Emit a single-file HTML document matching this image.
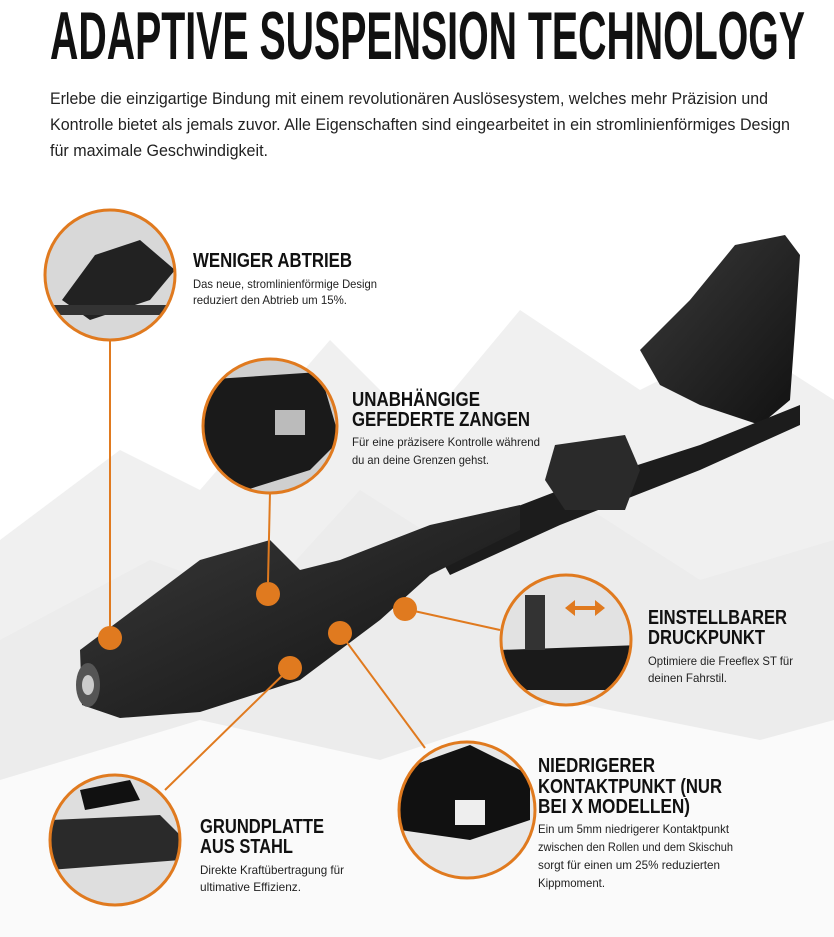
<!DOCTYPE html>
<html><head><meta charset="utf-8"><style>
html,body{margin:0;padding:0;background:#fff;}
svg{display:block;}
.h{font-family:"Liberation Sans Narrow","Liberation Sans",sans-serif;font-weight:bold;fill:#111;}
.d{font-family:"Liberation Sans Narrow","Liberation Sans",sans-serif;fill:#222;}
</style></head><body>
<svg width="834" height="937" viewBox="0 0 834 937" xmlns="http://www.w3.org/2000/svg">
<defs>
<linearGradient id="blk" x1="0" y1="0" x2="1" y2="1">
<stop offset="0" stop-color="#3a3a3a"/><stop offset="1" stop-color="#111"/>
</linearGradient>
<clipPath id="c1"><circle cx="110" cy="275" r="64"/></clipPath>
<clipPath id="c2"><circle cx="270" cy="426" r="66"/></clipPath>
<clipPath id="c3"><circle cx="566" cy="640" r="64"/></clipPath>
<clipPath id="c4"><circle cx="467" cy="810" r="67"/></clipPath>
<clipPath id="c5"><circle cx="115" cy="840" r="64"/></clipPath>
</defs>
<rect width="834" height="937" fill="#fff"/>
<!-- mountains -->
<polygon points="0,540 120,450 200,490 330,340 420,430 520,310 640,390 740,340 834,400 834,900 0,900" fill="#f0f0f0"/>
<polygon points="0,640 150,560 260,600 360,490 470,560 560,490 700,580 834,540 834,900 0,900" fill="#e9e9e9" opacity="0.6"/>
<polygon points="0,780 200,720 380,760 560,700 760,740 834,720 834,937 0,937" fill="#fafafa"/>

<!-- title -->
<text class="h" x="50" y="59" font-size="68" textLength="755" lengthAdjust="spacingAndGlyphs">ADAPTIVE SUSPENSION TECHNOLOGY</text>
<text class="d" x="50" y="104" font-size="17" textLength="718" lengthAdjust="spacingAndGlyphs">Erlebe die einzigartige Bindung mit einem revolutionären Auslösesystem, welches mehr Präzision und</text>
<text class="d" x="50" y="130" font-size="17" textLength="740" lengthAdjust="spacingAndGlyphs">Kontrolle bietet als jemals zuvor. Alle Eigenschaften sind eingearbeitet in ein stromlinienförmiges Design</text>
<text class="d" x="50" y="156" font-size="17" textLength="218" lengthAdjust="spacingAndGlyphs">für maximale Geschwindigkeit.</text>

<!-- binding -->
<polygon points="690,300 735,245 785,235 800,255 795,330 790,400 760,425 700,405 660,385 640,350" fill="url(#blk)"/>
<polygon points="430,540 560,490 700,445 800,405 800,425 700,470 560,525 450,575" fill="#1c1c1c"/>
<polygon points="555,445 625,435 640,470 625,510 565,510 545,480" fill="#2a2a2a"/>
<polygon points="80,650 200,560 270,540 300,570 340,560 430,525 520,505 520,530 430,575 380,620 300,680 200,712 120,718 82,705" fill="url(#blk)"/>
<ellipse cx="88" cy="685" rx="12" ry="22" fill="#555"/>
<ellipse cx="88" cy="685" rx="6" ry="10" fill="#ccc"/>

<!-- connectors -->
<g stroke="#e07a1f" stroke-width="2" fill="none">
<line x1="110" y1="340" x2="110" y2="628"/>
<line x1="270" y1="492" x2="268" y2="582"/>
<line x1="405" y1="609" x2="500" y2="630"/>
<line x1="340" y1="633" x2="425" y2="748"/>
<line x1="290" y1="668" x2="165" y2="790"/>
</g>
<g fill="#e07a1f">
<circle cx="110" cy="638" r="12"/>
<circle cx="268" cy="594" r="12"/>
<circle cx="405" cy="609" r="12"/>
<circle cx="340" cy="633" r="12"/>
<circle cx="290" cy="668" r="12"/>
</g>

<!-- detail circles -->
<circle cx="110" cy="275" r="65" fill="#d8d8d8"/>
<circle cx="270" cy="426" r="67" fill="#cfcfcf"/>
<circle cx="566" cy="640" r="65" fill="#e2e2e2"/>
<circle cx="467" cy="810" r="68" fill="#e8e8e8"/>
<circle cx="115" cy="840" r="65" fill="#dedede"/>
<g clip-path="url(#c1)"><polygon points="62,300 95,255 140,240 175,270 150,300 90,320" fill="#222"/><rect x="40" y="305" width="140" height="10" fill="#333"/></g>
<g clip-path="url(#c2)"><polygon points="200,380 320,372 340,440 310,470 230,495 200,440" fill="#1a1a1a"/><rect x="275" y="410" width="30" height="25" fill="#bbb"/></g>
<g clip-path="url(#c3)"><polygon points="500,650 640,645 640,690 500,690" fill="#1a1a1a"/><rect x="525" y="595" width="20" height="55" fill="#333"/></g>
<polygon points="565,608 575,600 575,616" fill="#e07a1f"/>
<rect x="572" y="606" width="26" height="4" fill="#e07a1f"/>
<polygon points="605,608 595,600 595,616" fill="#e07a1f"/>
<g clip-path="url(#c4)"><polygon points="400,770 470,745 530,775 530,820 470,840 400,830" fill="#111"/><rect x="455" y="800" width="30" height="25" fill="#eee"/></g>
<g clip-path="url(#c5)"><polygon points="50,820 160,815 180,835 180,860 50,870" fill="#2a2a2a"/><polygon points="80,790 130,780 140,800 85,810" fill="#111"/></g>
<g stroke="#e07a1f" stroke-width="3" fill="none">
<circle cx="110" cy="275" r="65"/>
<circle cx="270" cy="426" r="67"/>
<circle cx="566" cy="640" r="65"/>
<circle cx="467" cy="810" r="68"/>
<circle cx="115" cy="840" r="65"/>
</g>

<!-- labels -->
<text class="h" x="193" y="267" font-size="20" textLength="159" lengthAdjust="spacingAndGlyphs">WENIGER ABTRIEB</text>
<text class="d" x="193" y="288" font-size="12" textLength="184" lengthAdjust="spacingAndGlyphs">Das neue, stromlinienförmige Design</text>
<text class="d" x="193" y="304" font-size="12" textLength="154" lengthAdjust="spacingAndGlyphs">reduziert den Abtrieb um 15%.</text>

<text class="h" x="352" y="406" font-size="20" textLength="128" lengthAdjust="spacingAndGlyphs">UNABHÄNGIGE</text>
<text class="h" x="352" y="426" font-size="20" textLength="178" lengthAdjust="spacingAndGlyphs">GEFEDERTE ZANGEN</text>
<text class="d" x="352" y="446" font-size="12" textLength="188" lengthAdjust="spacingAndGlyphs">Für eine präzisere Kontrolle während</text>
<text class="d" x="352" y="464" font-size="12" textLength="137" lengthAdjust="spacingAndGlyphs">du an deine Grenzen gehst.</text>

<text class="h" x="648" y="624" font-size="20" textLength="139" lengthAdjust="spacingAndGlyphs">EINSTELLBARER</text>
<text class="h" x="648" y="644" font-size="20" textLength="117" lengthAdjust="spacingAndGlyphs">DRUCKPUNKT</text>
<text class="d" x="648" y="665" font-size="12" textLength="145" lengthAdjust="spacingAndGlyphs">Optimiere die Freeflex ST für</text>
<text class="d" x="648" y="682" font-size="12" textLength="79" lengthAdjust="spacingAndGlyphs">deinen Fahrstil.</text>

<text class="h" x="538" y="772" font-size="20" textLength="117" lengthAdjust="spacingAndGlyphs">NIEDRIGERER</text>
<text class="h" x="538" y="793" font-size="20" textLength="184" lengthAdjust="spacingAndGlyphs">KONTAKTPUNKT (NUR</text>
<text class="h" x="538" y="813" font-size="20" textLength="152" lengthAdjust="spacingAndGlyphs">BEI X MODELLEN)</text>
<text class="d" x="538" y="833" font-size="12" textLength="191" lengthAdjust="spacingAndGlyphs">Ein um 5mm niedrigerer Kontaktpunkt</text>
<text class="d" x="538" y="851" font-size="12" textLength="195" lengthAdjust="spacingAndGlyphs">zwischen den Rollen und dem Skischuh</text>
<text class="d" x="538" y="869" font-size="12" textLength="182" lengthAdjust="spacingAndGlyphs">sorgt für einen um 25% reduzierten</text>
<text class="d" x="538" y="887" font-size="12" textLength="67" lengthAdjust="spacingAndGlyphs">Kippmoment.</text>

<text class="h" x="200" y="833" font-size="20" textLength="124" lengthAdjust="spacingAndGlyphs">GRUNDPLATTE</text>
<text class="h" x="200" y="853" font-size="20" textLength="93" lengthAdjust="spacingAndGlyphs">AUS STAHL</text>
<text class="d" x="200" y="874" font-size="12" textLength="144" lengthAdjust="spacingAndGlyphs">Direkte Kraftübertragung für</text>
<text class="d" x="200" y="891" font-size="12" textLength="101" lengthAdjust="spacingAndGlyphs">ultimative Effizienz.</text>
</svg>
</body></html>
